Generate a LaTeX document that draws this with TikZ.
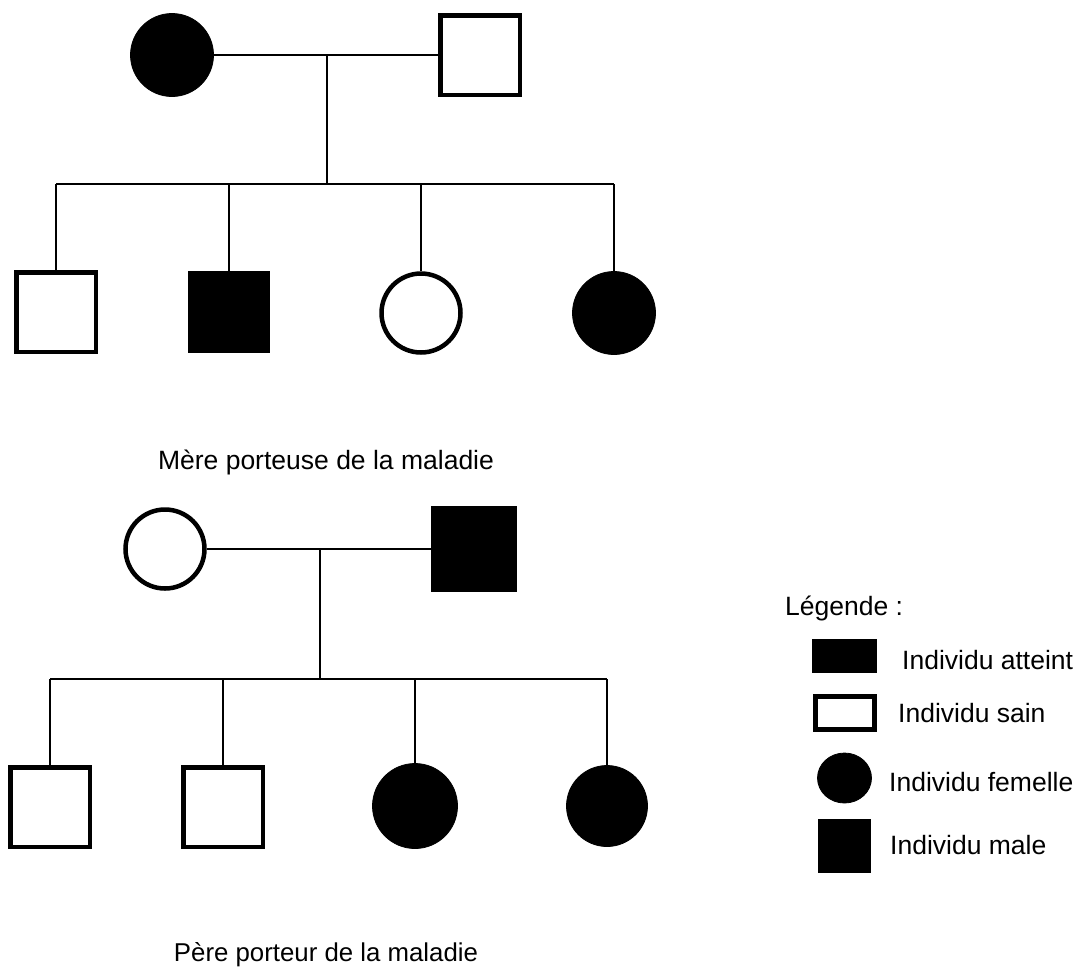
\documentclass[tikz,border=0pt]{standalone}
\usepackage{fontspec}
\usetikzlibrary{shapes.geometric}
\setmainfont{Liberation Sans}
\begin{document}
\begin{tikzpicture}[x=1pt,y=-1pt,
  mopen/.style={rectangle,draw=black,line width=4.5pt,fill=white,minimum size=79.5pt,inner sep=0pt},
  mfill/.style={rectangle,draw=black,fill=black,line width=0.8pt,minimum size=81pt,inner sep=0pt},
  fopen/.style={circle,draw=black,line width=4.5pt,fill=white,minimum size=79pt,inner sep=0pt},
  ffill/.style={circle,draw=black,fill=black,line width=0.8pt,minimum size=83pt,inner sep=0pt},
  link/.style={line width=2.5pt,black},
  lbl/.style={font=\fontsize{26.5}{30}\selectfont,inner sep=0pt},
  legtxt/.style={lbl,anchor=west}]
\useasboundingbox (0,0) rectangle (1081,970);
% ---------- top pedigree ----------
\node[ffill] (mom1) at (172,55) {};
\node[mopen] (dad1) at (480,55) {};
\coordinate (m1) at (327,55);
\coordinate (s1) at (327,184);
\node[mopen] (c11) at (56,312) {};
\node[mfill] (c12) at (229,312) {};
\node[fopen] (c13) at (421,313) {};
\node[ffill] (c14) at (614,313) {};
\draw[link] (mom1) -- (dad1);
\draw[link] (m1) -- (s1);
\draw[link] (c11 |- s1) -- (c14 |- s1);
\foreach \c in {c11,c12,c13,c14} \draw[link] (\c |- s1) -- (\c.north);
\node[lbl] (t1) at (326,462) {Mère porteuse de la maladie};
% ---------- bottom pedigree ----------
\node[fopen] (mom2) at (165,549) {};
\node[mfill,minimum size=85pt] (dad2) at (474,549) {};
\coordinate (m2) at (320,549);
\coordinate (s2) at (320,679);
\node[mopen] (c21) at (50,807) {};
\node[mopen] (c22) at (223,807) {};
\node[ffill,minimum size=85pt] (c23) at (415,806) {};
\node[ffill,minimum size=81pt] (c24) at (607,806) {};
\draw[link] (mom2) -- (dad2);
\draw[link] (m2) -- (s2);
\draw[link] (c21 |- s2) -- (c24 |- s2);
\foreach \c in {c21,c22,c23,c24} \draw[link] (\c |- s2) -- (\c.north);
\node[lbl,font=\fontsize{25.8}{30}\selectfont] (t2) at (326,955) {Père porteur de la maladie};
% ---------- legend ----------
\node[legtxt] (lg) at (785,608) {Légende :};
\node[rectangle,fill=black,draw=black,line width=0.8pt,minimum width=64pt,minimum height=33pt,inner sep=0pt] (l1) at (844.5,656) {};
\node[legtxt] (l1t) at (902,660) {Individu atteint};
\node[rectangle,draw=black,line width=4.5pt,fill=white,minimum width=59pt,minimum height=33pt,inner sep=0pt] (l2) at (845,713) {};
\node[legtxt] (l2t) at (898,713) {Individu sain};
\node[ellipse,draw=black,fill=black,line width=0.8pt,minimum width=54pt,minimum height=50pt,inner sep=0pt] (l3) at (844.5,778) {};
\node[legtxt] (l3t) at (889,782) {Individu femelle};
\node[rectangle,fill=black,draw=black,line width=0.8pt,minimum width=52pt,minimum height=53pt,inner sep=0pt] (l4) at (844.5,846) {};
\node[legtxt] (l4t) at (890,845) {Individu male};
\end{tikzpicture}
\end{document}
